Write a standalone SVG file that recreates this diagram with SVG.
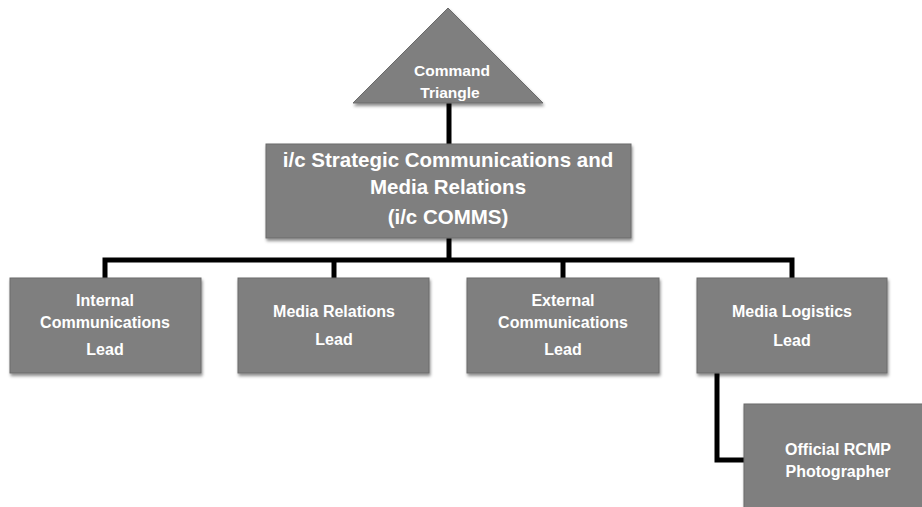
<svg xmlns="http://www.w3.org/2000/svg" width="922" height="507" viewBox="0 0 922 507">
  <defs>
    <filter id="shadow" x="-10%" y="-10%" width="125%" height="130%">
      <feDropShadow dx="1" dy="2.5" stdDeviation="1.6" flood-color="#000" flood-opacity="0.45"/>
    </filter>
    <style>
      .box { fill: #7f7f7f; stroke: #6a6a6a; stroke-width: 1; filter: url(#shadow); }
      .lbl { fill: #ffffff; font-family: "Liberation Sans", Arial, sans-serif; font-weight: bold; text-anchor: middle; }
      .sm { font-size: 16px; }
      .md { font-size: 15.5px; }
      .lg { font-size: 20.5px; }
      .wire { fill: none; stroke: #000; stroke-width: 5; stroke-linejoin: miter; }
    </style>
  </defs>
  <rect width="922" height="507" fill="#ffffff"/>

  <!-- connectors -->
  <g id="connectors">
    <path class="wire" d="M449 102 V144"/>
    <path class="wire" d="M449 238 V260"/>
    <path class="wire" d="M105 278 V260 H792 V278"/>
    <path class="wire" d="M334 260 V278"/>
    <path class="wire" d="M563 260 V278"/>
    <path class="wire" d="M717 373 V460 H744"/>
  </g>

  <!-- command triangle -->
  <g id="command-triangle">
    <polygon class="box" points="353,103 448,8 543,103"/>
    <text class="lbl md" x="452" y="76">Command</text>
    <text class="lbl md" x="450" y="98">Triangle</text>
  </g>

  <!-- i/c COMMS -->
  <g id="ic-comms">
    <rect class="box" x="266" y="144" width="365" height="94"/>
    <text class="lbl lg" x="448" y="167">i/c Strategic Communications and</text>
    <text class="lbl lg" x="448" y="194">Media Relations</text>
    <text class="lbl lg" x="448" y="224">(i/c COMMS)</text>
  </g>

  <g id="internal-comms">
    <rect class="box" x="10" y="278" width="191" height="95"/>
    <text class="lbl sm" x="105" y="306">Internal</text>
    <text class="lbl sm" x="105" y="328">Communications</text>
    <text class="lbl sm" x="105" y="355">Lead</text>
  </g>

  <g id="media-relations">
    <rect class="box" x="238" y="278" width="191" height="95"/>
    <text class="lbl sm" x="334" y="317">Media Relations</text>
    <text class="lbl sm" x="334" y="345">Lead</text>
  </g>

  <g id="external-comms">
    <rect class="box" x="467" y="278" width="192" height="95"/>
    <text class="lbl sm" x="563" y="306">External</text>
    <text class="lbl sm" x="563" y="328">Communications</text>
    <text class="lbl sm" x="563" y="355">Lead</text>
  </g>

  <g id="media-logistics">
    <rect class="box" x="697" y="278" width="190" height="95"/>
    <text class="lbl sm" x="792" y="317">Media Logistics</text>
    <text class="lbl sm" x="792" y="346">Lead</text>
  </g>

  <g id="rcmp-photographer">
    <rect class="box" x="744" y="404" width="190" height="110"/>
    <text class="lbl sm" x="838" y="455">Official RCMP</text>
    <text class="lbl sm" x="838" y="477">Photographer</text>
  </g>
</svg>
